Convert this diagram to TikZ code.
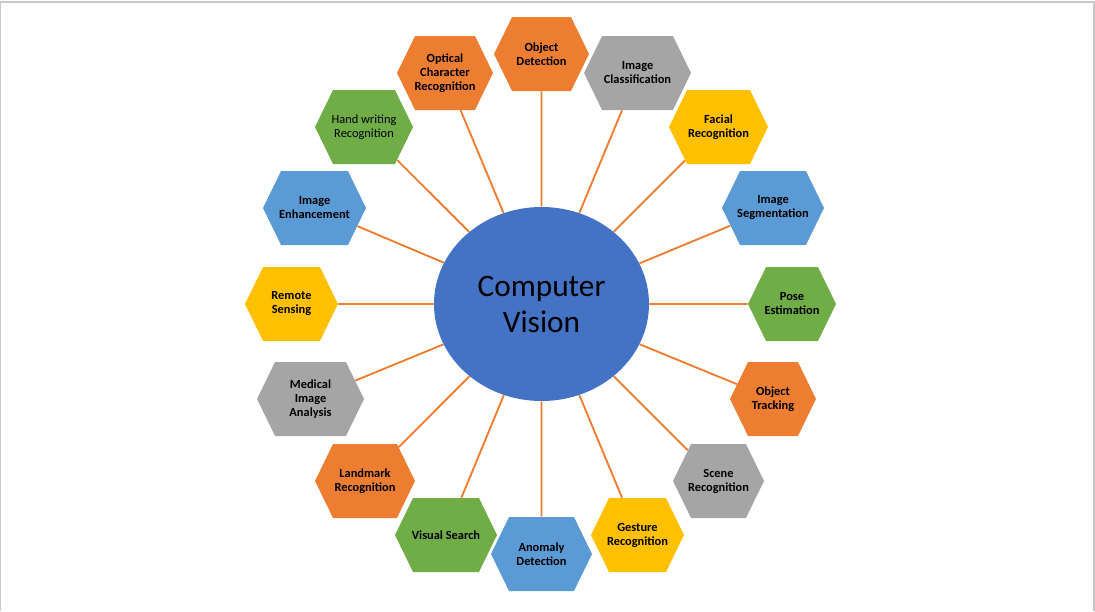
\documentclass[tikz,border=0pt]{standalone}
\usepackage{fontspec}
\setmainfont{Carlito}
\usetikzlibrary{shapes.symbols,shapes.geometric}
\definecolor{cvblue}{HTML}{4472C4}
\definecolor{hexorange}{HTML}{ED7D31}
\definecolor{hexgrey}{HTML}{A5A5A5}
\definecolor{hexyellow}{HTML}{FFC000}
\definecolor{hexblue}{HTML}{5B9BD5}
\definecolor{hexgreen}{HTML}{70AD47}
\definecolor{framegrey}{HTML}{C8C8C8}
\tikzset{
  hexbox/.style={signal, signal to=east and west, signal pointer angle=128,
    inner xsep=-5pt, inner ysep=1pt, minimum height=55.5pt, align=center,
    font=\bfseries\fontsize{9.3}{10.5}\selectfont},
  link/.style={draw=hexorange, line width=1.4pt}
}
\begin{document}
\begin{tikzpicture}[x=0.75pt, y=-0.75pt]
        \useasboundingbox (0,0) rectangle (1095,611);
        \draw[framegrey, line width=1pt] (0.5,611) -- (0.5,2) -- (1094,2) -- (1094,611);
        \node[name=cv, ellipse, fill=cvblue, minimum width=161.25pt, minimum height=145.5pt, inner sep=0pt,
              align=center, font=\fontsize{23.5}{27}\selectfont] at (541.5,304) {Computer\\Vision};
        % hexagons round the centre
        \node[name=od, hexbox, fill=hexorange, minimum width=71.25pt] at (541.5,54) {Object\\Detection};
        \node[name=ocr, hexbox, fill=hexorange, minimum width=72pt] at (445,73) {Optical\\Character\\Recognition};
        \node[name=ic, hexbox, fill=hexgrey, minimum width=80.25pt] at (637.5,73) {Image\\Classification};
        \node[name=hw, hexbox, fill=hexgreen, minimum width=73.5pt, font=\fontsize{9.3}{10.5}\selectfont] at (364,127) {Hand writing\\Recognition};
        \node[name=fr, hexbox, fill=hexyellow, minimum width=74.25pt] at (718.5,127) {Facial\\Recognition};
        \node[name=ie, hexbox, fill=hexblue, minimum width=77.25pt] at (314.5,208) {Image\\Enhancement};
        \node[name=is, hexbox, fill=hexblue, minimum width=76.5pt] at (773,208) {Image\\Segmentation};
        \node[name=rs, hexbox, fill=hexyellow, minimum width=69.75pt] at (291.5,304) {Remote\\Sensing};
        \node[name=pe, hexbox, fill=hexgreen, minimum width=66pt] at (792,304) {Pose\\Estimation};
        \node[name=mia, hexbox, fill=hexgrey, minimum width=80.25pt] at (310.5,399) {Medical\\Image\\Analysis};
        \node[name=ot, hexbox, fill=hexorange, minimum width=64.5pt] at (773,399) {Object\\Tracking};
        \node[name=lr, hexbox, fill=hexorange, minimum width=75pt] at (365,481) {Landmark\\Recognition};
        \node[name=sr, hexbox, fill=hexgrey, minimum width=68.25pt] at (718.5,481) {Scene\\Recognition};
        \node[name=vs, hexbox, fill=hexgreen, minimum width=76.5pt] at (446,535) {Visual Search};
        \node[name=gr, hexbox, fill=hexyellow, minimum width=69.75pt] at (637.5,535) {Gesture\\Recognition};
        \node[name=ad, hexbox, fill=hexblue, minimum width=75.75pt] at (541.5,554) {Anomaly\\Detection};
        % spokes
        \foreach \n in {od,ocr,ic,hw,fr,ie,is,rs,pe,mia,ot,lr,sr,vs,gr,ad}
            \draw[link] (cv) -- (\n);
    \end{tikzpicture}
\end{document}
